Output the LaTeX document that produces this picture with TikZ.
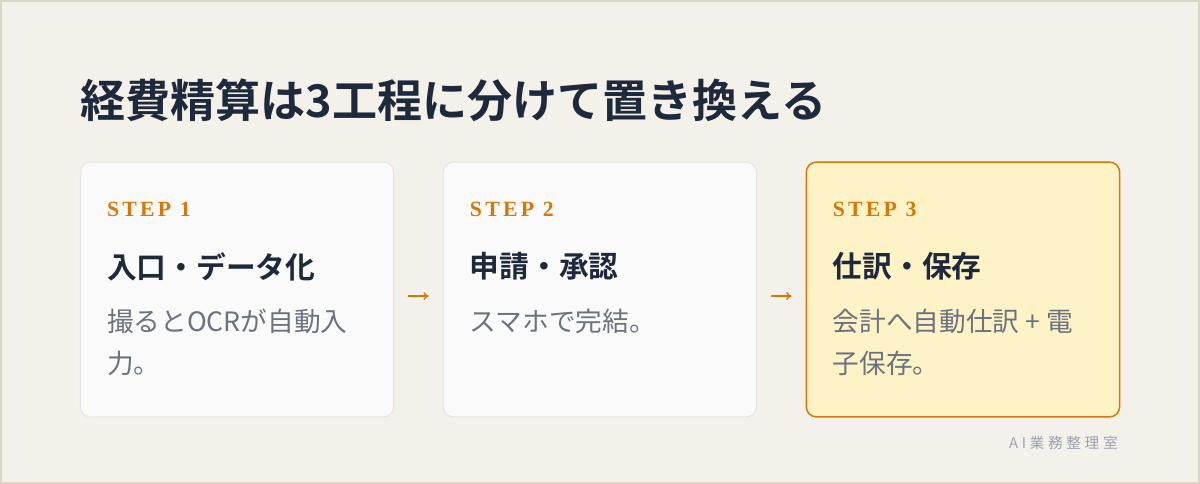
\documentclass[tikz,border=0pt]{standalone}
\usepackage{fontspec}
\usepackage{xcolor}
\usepackage{tikz}
\usetikzlibrary{positioning, arrows.meta}
\setmainfont{Liberation Serif}
\newfontfamily\jpsans{Noto Sans CJK JP}[BoldFont={* Bold}]
\newfontfamily\stepfont{Liberation Serif}[LetterSpace=15]
\newfontfamily\markfont{Noto Sans CJK JP}[LetterSpace=25]
\definecolor{paper}{HTML}{F4F1EA}
\definecolor{frame}{HTML}{DDD6C8}
\definecolor{cardfill}{HTML}{FAFAFA}
\definecolor{cardline}{HTML}{E6E4DF}
\definecolor{hotfill}{HTML}{FEF3C7}
\definecolor{accent}{HTML}{D97706}
\definecolor{ink}{HTML}{1E293B}
\definecolor{muted}{HTML}{6B7280}
\definecolor{faint}{HTML}{9CA3AF}

\begin{document}
\begin{tikzpicture}[x=0.75pt, y=-0.75pt, node distance=36.4pt,
    card/.style={draw=cardline, fill=cardfill, line width=0.75pt, rounded corners=7.5pt,
      minimum width=235pt, minimum height=191pt, inner sep=0pt},
    hotcard/.style={card, draw=accent, fill=hotfill, line width=1.1pt},
    steplbl/.style={anchor=west, inner sep=0pt, text=accent, font=\stepfont\bfseries\fontsize{16.3}{19}\selectfont},
    headlbl/.style={anchor=west, inner sep=0pt, text=ink, font=\jpsans\bfseries\fontsize{22.3}{26}\selectfont},
    bodylbl/.style={anchor=north west, inner sep=0pt, align=left, text=muted, font=\jpsans\fontsize{20}{31.5}\selectfont},
    flow/.style={-{To[length=4pt, width=6pt]}, accent, line width=1pt, shorten <=10.5pt, shorten >=10.5pt}]
  \useasboundingbox (0,0) rectangle (1200,484);
  \fill[paper] (0,0) rectangle (1200,484);
  \draw[frame, line width=1.5pt] (1,1) rectangle (1199,483);
  %title
  \node[anchor=west, inner sep=0pt, text=ink, font=\jpsans\bfseries\fontsize{33.8}{40}\selectfont] (title) at (80,100) {経費精算は3工程に分けて置き換える};
  %cards
  \node[card] (c1) at (237,289.5) {};
  \node[card, right=of c1] (c2) {};
  \node[hotcard, right=of c2] (c3) {};
  %
  \node[steplbl] (s1) at ([shift={(27,48)}]c1.north west) {STEP 1};
  \node[headlbl] (h1) at ([shift={(27,105)}]c1.north west) {入口・データ化};
  \node[bodylbl] (b1) at ([shift={(27,147)}]c1.north west) {撮るとOCRが自動入\\力。};
  %
  \node[steplbl] (s2) at ([shift={(27,48)}]c2.north west) {STEP 2};
  \node[headlbl] (h2) at ([shift={(27,105)}]c2.north west) {申請・承認};
  \node[bodylbl] (b2) at ([shift={(27,147)}]c2.north west) {スマホで完結。};
  %
  \node[steplbl] (s3) at ([shift={(27,48)}]c3.north west) {STEP 3};
  \node[headlbl] (h3) at ([shift={(27,105)}]c3.north west) {仕訳・保存};
  \node[bodylbl] (b3) at ([shift={(27,147)}]c3.north west) {会計へ自動仕訳 + 電\\子保存。};
  %arrows
  \draw[flow] ([yshift=-4.9pt]c1.east) -- ([yshift=-4.9pt]c2.west);
  \draw[flow] ([yshift=-4.9pt]c2.east) -- ([yshift=-4.9pt]c3.west);
  %
  \node[anchor=east, inner sep=0pt, text=faint, font=\markfont\fontsize{11}{13}\selectfont] (mark) at (1118,443) {AI業務整理室};
\end{tikzpicture}
\end{document}
